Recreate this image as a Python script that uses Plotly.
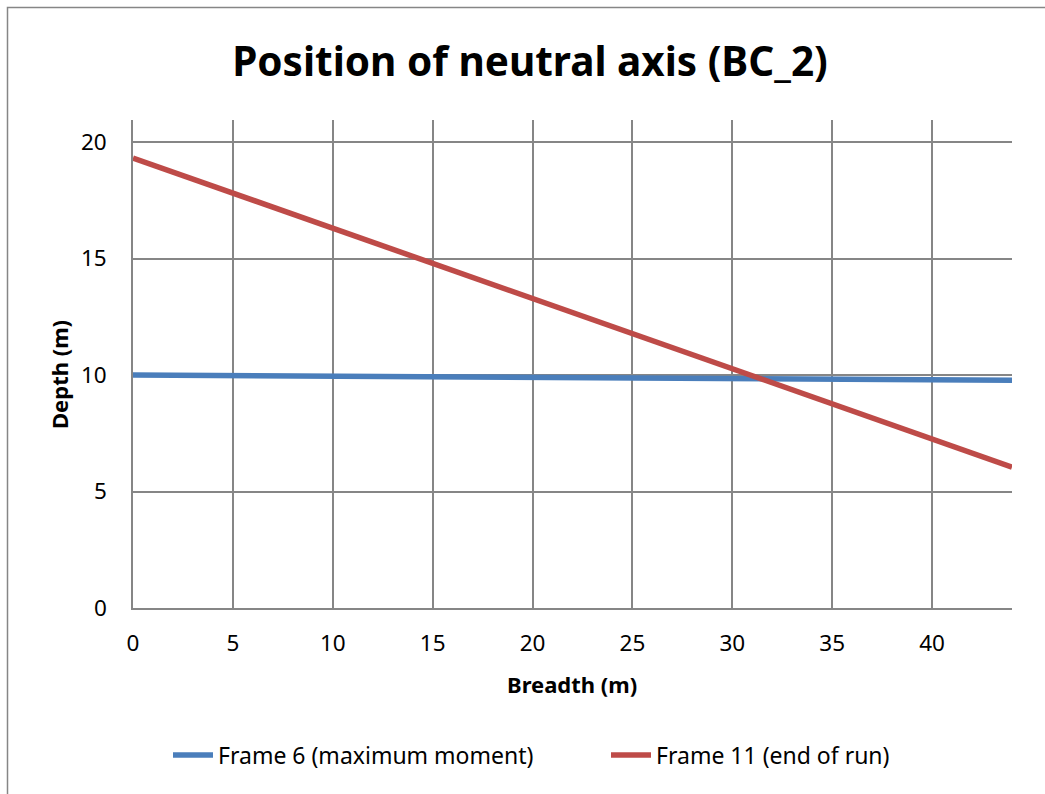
import plotly.graph_objects as go

# Data
breadth = [0, 44]
frame6_depth = [10.0, 9.78]
frame11_depth = [19.32, 6.05]

series_names = ["Frame 6 (maximum moment)", "Frame 11 (end of run)"]
series_colors = ["#4A7EBB", "#BE4B48"]

x_ticks = [0, 5, 10, 15, 20, 25, 30, 35, 40]
y_ticks = [0, 5, 10, 15, 20]

W, H = 1045, 794
L, R, T, B = 133, 33, 120, 186
FONT = "Noto Sans, Open Sans, sans-serif"
GRID = "#868686"

fig = go.Figure()
for ys, name, col in zip([frame6_depth, frame11_depth], series_names, series_colors):
    fig.add_trace(go.Scatter(x=breadth, y=ys, mode="lines", name=name,
                             line=dict(color=col, width=5.5)))

pw = W - L - R
ph = H - T - B
def px(xp):
    return (xp - L) / pw
def py(yp):
    return (H - B - yp) / ph

fig.update_layout(
    width=W, height=H,
    margin=dict(l=L, r=R, t=T, b=B),
    paper_bgcolor="white", plot_bgcolor="white",
    font=dict(family=FONT, color="black", size=23),
    title=dict(text="<b>Position of neutral axis (BC_2)</b>", x=530 / W, xanchor="center",
               xref="container", y=1 - 62 / H, yanchor="middle",
               font=dict(size=40.5, family=FONT, color="black")),
    xaxis=dict(range=[0, 44], tickvals=x_ticks, showgrid=True, gridcolor=GRID,
               gridwidth=1.5, zeroline=False, showline=True, linecolor=GRID,
               linewidth=1.5, ticks="", ticklabelstandoff=14,
               tickfont=dict(size=22.5)),
    yaxis=dict(range=[0, 20.95], tickvals=y_ticks, showgrid=True, gridcolor=GRID,
               gridwidth=1.5, zeroline=False, showline=True, linecolor=GRID,
               linewidth=1.5, ticks="", ticklabelstandoff=20,
               tickfont=dict(size=22.5)),
    legend=dict(orientation="h", xref="container", x=168 / W, xanchor="left",
                yref="container", y=1 - 755 / H, yanchor="middle",
                font=dict(size=23), itemwidth=40,
                entrywidth=383, entrywidthmode="pixels",
                bgcolor="rgba(0,0,0,0)"),
    showlegend=True,
)

fig.add_annotation(text="<b>Breadth (m)</b>", xref="paper", yref="paper",
                   x=px(572), y=py(684), xanchor="center", yanchor="middle",
                   showarrow=False, font=dict(size=22))
fig.add_annotation(text="<b>Depth (m)</b>", xref="paper", yref="paper",
                   x=px(59), y=py(375), xanchor="center", yanchor="middle",
                   textangle=-90, showarrow=False, font=dict(size=22))

# chart-area border (only top and left visible in the crop)
fig.add_shape(type="rect", xref="paper", yref="paper",
              x0=px(7.5), y0=py(900), x1=px(1200), y1=py(7.5),
              line=dict(color="#868686", width=1.5), fillcolor="rgba(0,0,0,0)",
              layer="below")

fig.write_html("out.html")
